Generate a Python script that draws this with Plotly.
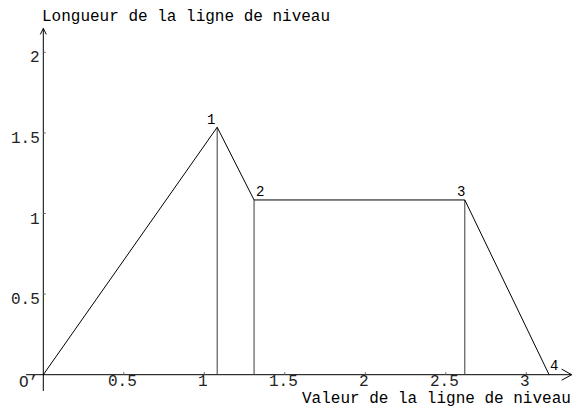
import plotly.graph_objects as go

# Level-line length as a function of the level value
level_values = [0.0, 1.08, 1.309, 2.618, 3.1416]
line_lengths = [0.0, 1.535, 1.084, 1.084, 0.0]
vertex_labels = ["", "1", "2", "3", "4"]

x_ticks = [0.5, 1, 1.5, 2, 2.5, 3]
x_tick_text = ["0.5", "1", "1.5", "2", "2.5", "3"]
y_ticks = [0.5, 1, 1.5, 2]
y_tick_text = ["0.5", "1", "1.5", "2"]

x_title = "Valeur de la ligne de niveau"
y_title = "Longueur de la ligne de niveau"
origin_label = "O\u2019"

W, H = 575, 412
X_RANGE = [-0.269, 3.3025]
Y_RANGE = [-0.2314, 2.3245]
PX_X = W / (X_RANGE[1] - X_RANGE[0])
PX_Y = H / (Y_RANGE[1] - Y_RANGE[0])

X_AXIS_SPAN = [-0.107, 3.282]
Y_AXIS_SPAN = [-0.101, 2.148]

MONO = "Liberation Mono"

fig = go.Figure()

# axis lines
fig.add_trace(go.Scatter(x=X_AXIS_SPAN, y=[0, 0], mode="lines",
                         line=dict(color="black", width=1), hoverinfo="skip"))
fig.add_trace(go.Scatter(x=[0, 0], y=Y_AXIS_SPAN, mode="lines",
                         line=dict(color="black", width=1), hoverinfo="skip"))

# open arrowheads at the axis ends
ax_tip = X_AXIS_SPAN[1]
fig.add_trace(go.Scatter(
    x=[ax_tip - 10 / PX_X, ax_tip, ax_tip - 10 / PX_X],
    y=[5.5 / PX_Y, 0, -5.5 / PX_Y],
    mode="lines", line=dict(color="black", width=1), hoverinfo="skip"))
ay_tip = Y_AXIS_SPAN[1]
fig.add_trace(go.Scatter(
    x=[-3 / PX_X, 0, 3 / PX_X],
    y=[ay_tip - 6 / PX_Y, ay_tip, ay_tip - 6 / PX_Y],
    mode="lines", line=dict(color="black", width=1), hoverinfo="skip"))

# small tick marks on the inner side of each axis
tx, ty = [], []
for v in x_ticks:
    tx += [v, v, None]
    ty += [0, 2.5 / PX_Y, None]
for v in y_ticks:
    tx += [0, 2.5 / PX_X, None]
    ty += [v, v, None]
fig.add_trace(go.Scatter(x=tx, y=ty, mode="lines",
                         line=dict(color="#666", width=1), hoverinfo="skip"))

# vertical drops from the inner vertices to the value axis
vx, vy = [], []
for xv, yv in zip(level_values[1:4], line_lengths[1:4]):
    vx += [xv, xv, None]
    vy += [0, yv, None]
fig.add_trace(go.Scatter(x=vx, y=vy, mode="lines",
                         line=dict(color="#3a3a3a", width=1), hoverinfo="skip"))

# main polygonal curve
fig.add_trace(go.Scatter(x=level_values, y=line_lengths, mode="lines",
                         line=dict(color="black", width=1), hoverinfo="skip"))

ann = []
for v, t in zip(x_ticks, x_tick_text):
    ann.append(dict(x=v, y=0, text=t, showarrow=False, xanchor="center",
                    yanchor="middle", xshift=-1, yshift=-7, borderpad=0,
                    font=dict(family=MONO, size=16, color="#222")))
for v, t in zip(y_ticks, y_tick_text):
    ann.append(dict(x=0, y=v, text=t, showarrow=False, xanchor="right",
                    yanchor="middle", xshift=-2, yshift=-6, borderpad=0,
                    font=dict(family=MONO, size=16, color="#222")))
ann.append(dict(x=0, y=0, text=origin_label, showarrow=False, xanchor="right",
                yanchor="middle", xshift=-4, yshift=-8, borderpad=0,
                font=dict(family=MONO, size=16, color="#222")))

# vertex numbers
offsets = [(0, 0), (-6, 7), (6, 8), (-4, 8), (5, 9)]
for xv, yv, t, (dx, dy) in zip(level_values, line_lengths, vertex_labels, offsets):
    if t:
        ann.append(dict(x=xv, y=yv, text=t, showarrow=False, xanchor="center",
                        yanchor="middle", xshift=dx, yshift=dy, borderpad=0,
                        font=dict(family=MONO, size=14, color="black")))

# axis titles (left-aligned text blocks)
ann.append(dict(xref="paper", yref="paper", x=41 / W, y=1 - 17 / H,
                text=y_title, showarrow=False, xanchor="left", align="left",
                yanchor="middle", borderpad=0,
                font=dict(family=MONO, size=16, color="black")))
ann.append(dict(x=1.6, y=0, text=x_title, showarrow=False, xanchor="left",
                align="left", yanchor="middle", xshift=0, yshift=-24,
                borderpad=0,
                font=dict(family=MONO, size=16, color="black")))

fig.update_layout(
    width=W, height=H,
    margin=dict(l=0, r=0, t=0, b=0),
    paper_bgcolor="white", plot_bgcolor="white",
    showlegend=False,
    xaxis=dict(range=X_RANGE, visible=False, fixedrange=True),
    yaxis=dict(range=Y_RANGE, visible=False, fixedrange=True),
    annotations=ann,
)

fig.write_html("out.html")
